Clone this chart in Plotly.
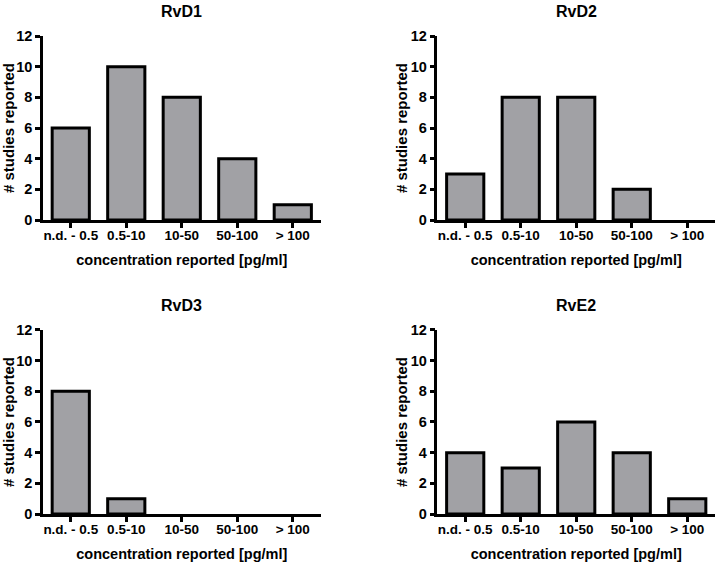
import plotly.graph_objects as go
from plotly.subplots import make_subplots

CATEGORIES = ['n.d. - 0.5', '0.5-10', '10-50', '50-100', '> 100']
PANEL_TITLES = ['RvD1', 'RvD2', 'RvD3', 'RvE2']
RVD1 = [6, 10, 8, 4, 1]
RVD2 = [3, 8, 8, 2, 0]
RVD3 = [8, 1, 0, 0, 0]
RVE2 = [4, 3, 6, 4, 1]

BAR_FILL = 'rgb(161,161,165)'
FONT = 'Liberation Sans, Arial, sans-serif'

def UpdateLayout(fig):
    fig.update_yaxes(range=[0, 12], tickvals=[0, 2, 4, 6, 8, 10, 12], showgrid=False, zeroline=False,
                     showline=True, linecolor='black', linewidth=2.5, automargin=False,
                     ticks='outside', ticklen=5, tickwidth=2.5, tickcolor='black',
                     tickfont=dict(size=14.5, color='black'),
                     title_text='# studies reported', title_font=dict(size=15, color='black'),
                     title_standoff=0)
    fig.update_xaxes(range=[-0.5, 4.5], showgrid=False, zeroline=False,
                     showline=True, linecolor='black', linewidth=2.5, automargin=False,
                     ticks='outside', ticklen=5, tickwidth=2.5, tickcolor='black',
                     tickfont=dict(size=13.5, color='black'), ticklabelstandoff=-4,
                     title_text='concentration reported [pg/ml]', title_font=dict(size=14.5, color='black'),
                     title_standoff=13)
    fig.update_layout(width=717, height=562, margin=dict(l=43, r=2, t=36, b=48),
                      paper_bgcolor='white', plot_bgcolor='white', showlegend=False,
                      font=dict(family=FONT, weight='bold', color='black'), bargap=0.33)
    fig.update_annotations(font=dict(size=16, family=FONT, weight='bold', color='black'), yshift=14)

fig = make_subplots(rows=2, cols=2, subplot_titles=PANEL_TITLES,
                    horizontal_spacing=0.174, vertical_spacing=0.23)

for i, vals in enumerate([RVD1, RVD2, RVD3, RVE2]):
    # empty categories get no outline, so nothing sits on the axis
    widths = [3 if v > 0 else 0 for v in vals]
    fig.add_trace(go.Bar(x=CATEGORIES, y=vals, marker=dict(color=BAR_FILL, line=dict(color='black', width=widths))),
                  row=i // 2 + 1, col=i % 2 + 1)

UpdateLayout(fig)
# drop the default body margin so the figure fills the window exactly
fig.write_html('out.html', config={'displayModeBar': False},
               post_script="document.body.style.margin='0px';")
